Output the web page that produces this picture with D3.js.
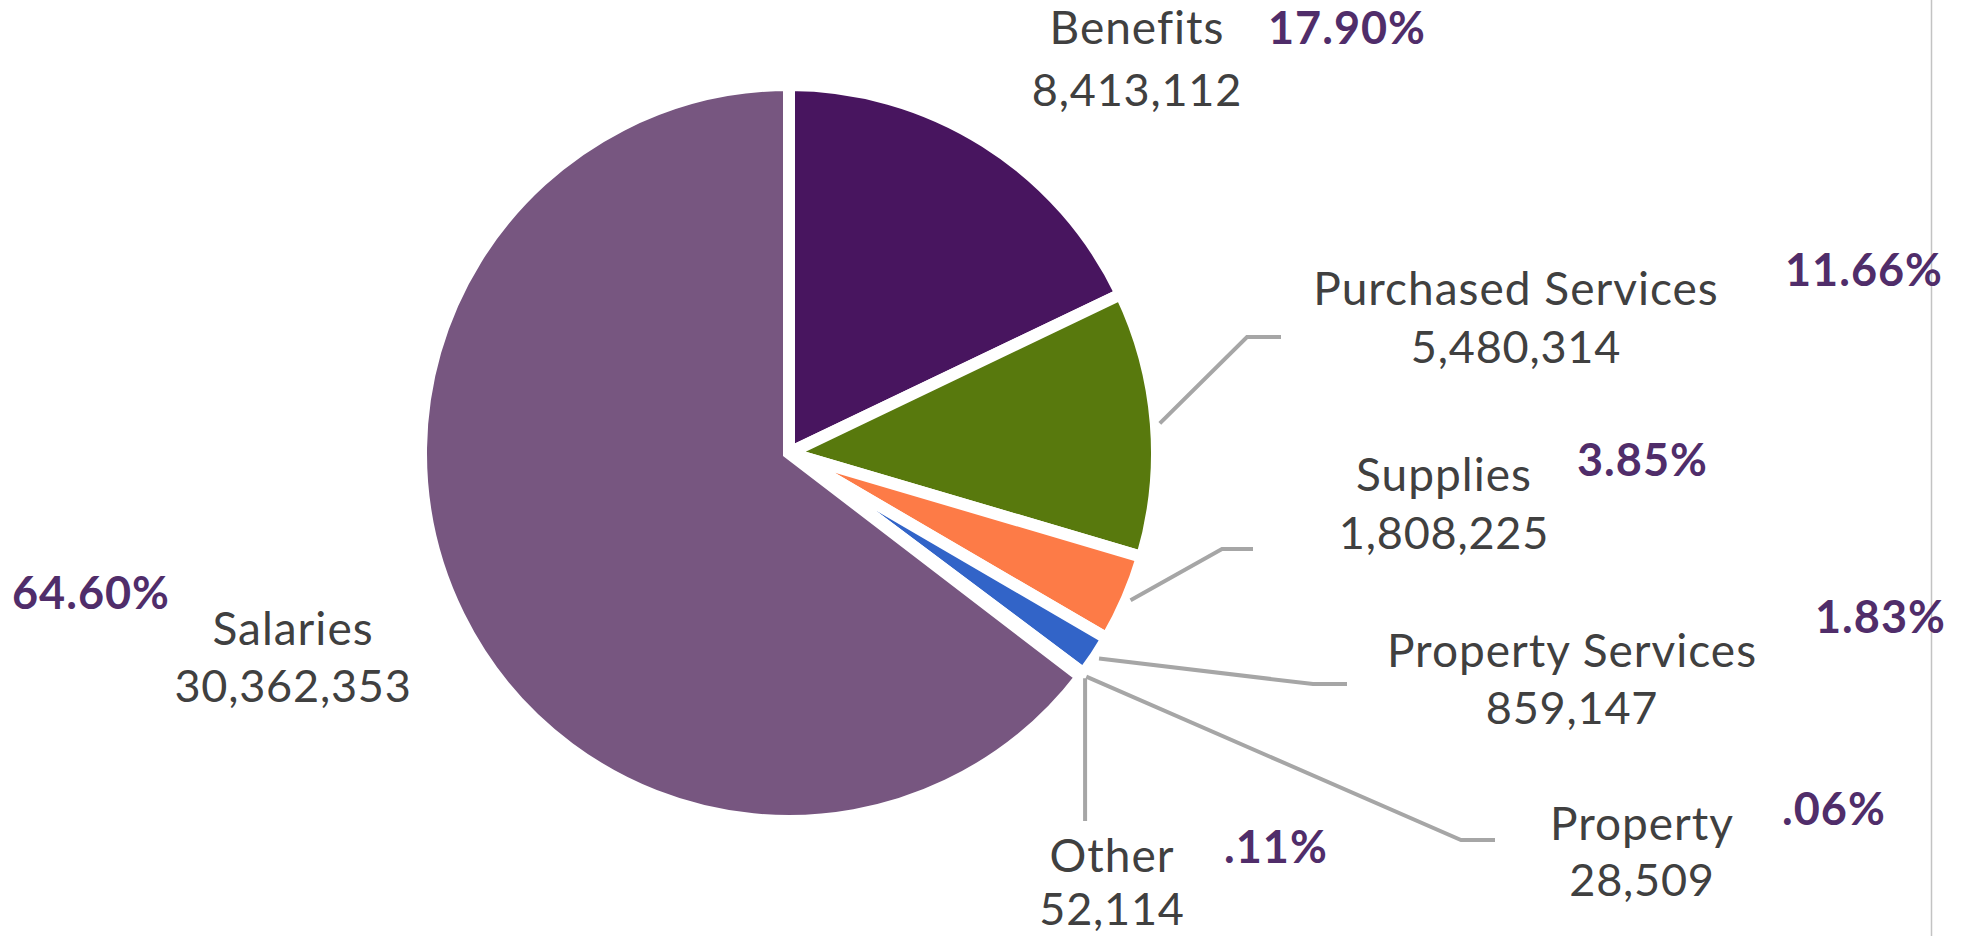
<!DOCTYPE html>
<html>
<head>
<meta charset="utf-8">
<script src="https://cdn.jsdelivr.net/npm/d3@7"></script>
<style>
  html, body { margin: 0; padding: 0; background: #ffffff; }
  svg { display: block; }
</style>
</head>
<body>
<svg id="chart" width="1965" height="936"></svg>
<script>
// Expenditure categories, clockwise from 12 o'clock
const categories = ["Benefits", "Purchased Services", "Supplies", "Property Services", "Property", "Other", "Salaries"];
const amounts = [8413112, 5480314, 1808225, 859147, 28509, 52114, 30362353];
const percentLabels = ["17.90%", "11.66%", "3.85%", "1.83%", ".06%", ".11%", "64.60%"];
const sliceColors = ["#48155f", "#58790d", "#fd7b47", "#3264c8", "#8a8a8a", "#b0b0b0", "#775680"];

// Label placement: centre of name/value block, baselines, and percent anchor
const labelLayout = [
  { cx: 1137, nameY: 44,  valY: 106, pctX: 1268, pctY: 44 },
  { cx: 1516, nameY: 305, valY: 363, pctX: 1785, pctY: 286 },
  { cx: 1444, nameY: 491, valY: 549, pctX: 1577, pctY: 476 },
  { cx: 1572, nameY: 667, valY: 724, pctX: 1815, pctY: 633 },
  { cx: 1642, nameY: 840, valY: 896, pctX: 1782, pctY: 825 },
  { cx: 1112, nameY: 872, valY: 925, pctX: 1224, pctY: 863 },
  { cx: 293,  nameY: 645, valY: 702, pctX: 12,   pctY: 609 }
];
// Leader line bends (null = no leader line)
const leaderBends = [
  null,
  [[1247, 337], [1281, 337]],
  [[1222, 549], [1253, 549]],
  [[1313, 684], [1347, 684]],
  [[1461, 840], [1495, 840]],
  "down",
  null
];

const svg = d3.select("#chart");
const cx = 789, cy = 453, R = 368;
const g = svg.append("g").attr("transform", `translate(${cx},${cy})`);

const pie = d3.pie().sort(null).value(d => d).startAngle(0).endAngle(2 * Math.PI);
const arcs = pie(amounts);
const arc = d3.arc().innerRadius(0).outerRadius(R);
const anchorArc = d3.arc().innerRadius(R + 4).outerRadius(R + 4);

g.selectAll("path.slice")
  .data(arcs)
  .join("path")
  .attr("class", "slice")
  .attr("d", arc)
  .attr("fill", (d, i) => sliceColors[i])
  .attr("stroke", "#ffffff")
  .attr("stroke-width", 12)
  .attr("stroke-linejoin", "miter");

// Right-hand frame line
svg.append("line")
  .attr("x1", 1931.5).attr("x2", 1931.5)
  .attr("y1", 0).attr("y2", 936)
  .attr("stroke", "#c3c3c3").attr("stroke-width", 1.5);

// Leader lines
arcs.forEach((d, i) => {
  const bend = leaderBends[i];
  if (!bend) return;
  const [sx, sy] = anchorArc.centroid(d);
  const start = [sx + cx, sy + cy];
  let pts;
  if (bend === "down") {
    pts = [start, [start[0], 821]];
  } else {
    pts = [start, ...bend];
  }
  svg.append("path")
    .attr("d", d3.line()(pts))
    .attr("fill", "none")
    .attr("stroke", "#a6a6a6")
    .attr("stroke-width", 4);
});

const fmt = d3.format(",");
const labels = svg.append("g");
arcs.forEach((d, i) => {
  const L = labelLayout[i];
  labels.append("text")
    .attr("x", L.cx).attr("y", L.nameY)
    .attr("text-anchor", "middle")
    .attr("font-family", "Lato, 'Open Sans', sans-serif")
    .attr("font-size", 46)
    .attr("letter-spacing", 1)
    .attr("fill", "#404040")
    .text(categories[i]);
  labels.append("text")
    .attr("x", L.cx).attr("y", L.valY)
    .attr("text-anchor", "middle")
    .attr("font-family", "Lato, 'Open Sans', sans-serif")
    .attr("font-size", 45)
    .attr("letter-spacing", 0.8)
    .attr("fill", "#404040")
    .text(fmt(amounts[i]));
  labels.append("text")
    .attr("x", L.pctX).attr("y", L.pctY)
    .attr("font-family", "Lato, 'Open Sans', sans-serif")
    .attr("font-weight", 700)
    .attr("font-size", 45)
    .attr("letter-spacing", 1)
    .attr("fill", "#502d6a")
    .text(percentLabels[i]);
});
</script>
</body>
</html>
